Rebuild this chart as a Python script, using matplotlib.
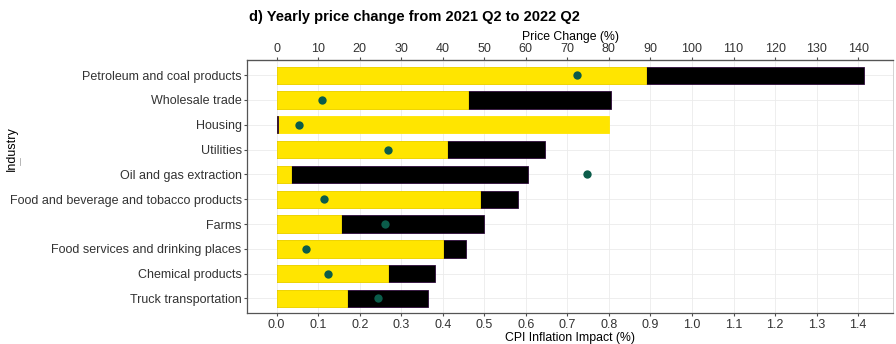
import matplotlib
matplotlib.use('Agg')
from matplotlib import pyplot as plt
from matplotlib.lines import Line2D

plt.rcParams['font.family'] = ['Liberation Sans', 'DejaVu Sans']

# industries, top to bottom
industries = ['Petroleum and coal products', 'Wholesale trade', 'Housing', 'Utilities',
              'Oil and gas extraction', 'Food and beverage and tobacco products', 'Farms',
              'Food services and drinking places', 'Chemical products', 'Truck transportation']

# CPI inflation impact (%) of each industry
direct_impact = [0.889, 0.460, 0.799, 0.409, 0.034, 0.490, 0.156, 0.400, 0.267, 0.170]
total_impact = [1.414, 0.806, 0.003, 0.645, 0.606, 0.580, 0.500, 0.455, 0.381, 0.364]

# yearly price change (%)
price_change = [72.4, 11.0, 5.4, 26.9, 74.7, 11.4, 26.1, 7.1, 12.3, 24.5]

yellow = '#FFE500'
dot_color = '#0B5C4A'


def main():
    fig = plt.figure(figsize=(8.96, 3.44), dpi=100)
    ax = fig.add_axes([0.276, 0.0892, 0.721, 0.7355])

    ypos = list(range(len(industries)))

    # longer bar goes first so the shorter one stays visible on top
    for y, a, b in zip(ypos, direct_impact, total_impact):
        bars = [(b, 'black', '#2E0A3A'), (a, yellow, yellow)]
        bars.sort(key=lambda t: -t[0])
        for i, (w, fc, ec) in enumerate(bars):
            ax.barh(y, w, height=0.7, color=fc, edgecolor=ec, linewidth=0.6, zorder=2 + i)

    ax.scatter([p / 100 for p in price_change], ypos, s=36, color=dot_color, zorder=5,
               linewidths=0)

    ax.set_yticks(ypos)
    ax.set_yticklabels(industries)
    ax.set_ylim(len(industries) - 0.4, -0.6)
    ax.set_xlim(-0.0707, 1.4847)
    ax.set_xticks([i / 10 for i in range(15)])
    ax.set_xticklabels([f'{i / 10:.1f}' for i in range(15)])

    # top axis shows the price change in percent
    top = ax.secondary_xaxis('top', functions=(lambda x: x * 100, lambda x: x / 100))
    top.set_xticks(list(range(0, 150, 10)))
    top.set_xlabel('Price Change (%)', fontsize=8.8, labelpad=2)
    top.tick_params(length=2.5, width=0.8, pad=1.5, labelsize=9, colors='#4d4d4d',
                    labelcolor='#333333')
    top.spines['top'].set_color('#555555')

    ax.set_xlabel('CPI Inflation Impact (%)', fontsize=8.8, labelpad=1)
    ax.set_ylabel('Industry', fontsize=9)
    ax.yaxis.set_label_coords(-0.355, 0.65)
    ax.tick_params(length=2.5, width=0.8, pad=1.5, labelsize=9, colors='#4d4d4d',
                   labelcolor='#333333')

    ax.grid(True, color='#EBEBEB', linewidth=0.6, zorder=0)
    ax.set_axisbelow(True)
    for side in ['left', 'bottom']:
        ax.spines[side].set_color('#555555')
        ax.spines[side].set_linewidth(0.9)
    ax.spines['right'].set_color('#CCCCCC')
    ax.spines['right'].set_linewidth(0.6)
    ax.spines['top'].set_color('#555555')
    ax.spines['top'].set_linewidth(0.9)

    fig.text(0.278, 0.95, 'd) Yearly price change from 2021 Q2 to 2022 Q2', fontsize=10.5,
             fontweight='bold', va='center', ha='left')

    # small mark below the y axis title
    fig.add_artist(Line2D([20 / 896, 20 / 896], [1 - 158 / 344, 1 - 165 / 344],
                          color='#AAAAAA', linewidth=0.6))

    fig.savefig('out.png', dpi=100)


if __name__ == '__main__':
    main()
